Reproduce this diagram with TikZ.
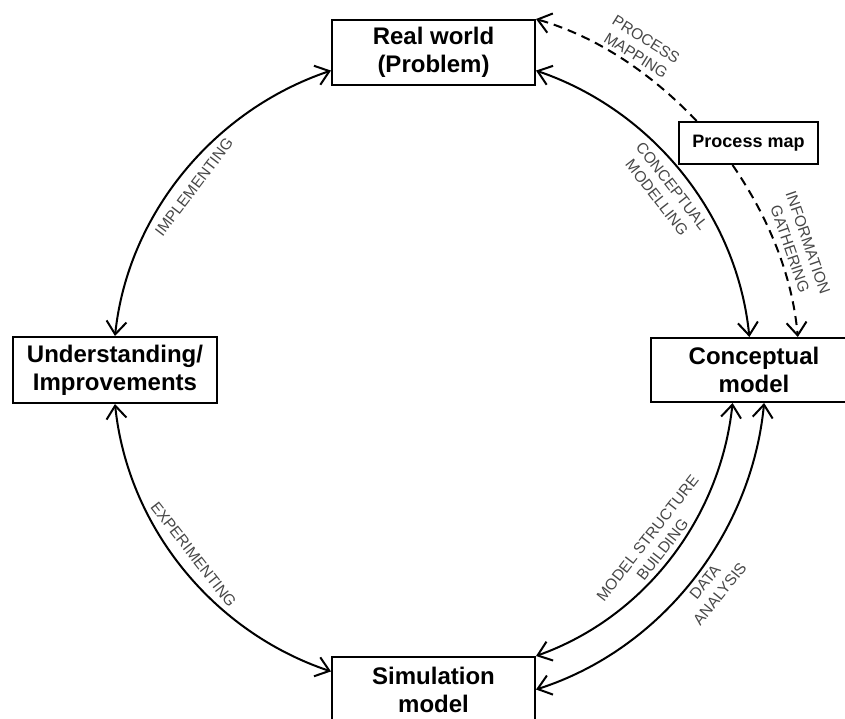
\documentclass[tikz,border=0pt]{standalone}
\usepackage{fontspec}
\setmainfont{Liberation Sans}
\usetikzlibrary{arrows.meta}
\begin{document}
\begin{tikzpicture}[x=1pt,y=1pt,
  >={Straight Barb[length=13pt,width=20pt]},
  box/.style={draw, line width=2pt, font=\bfseries\fontsize{24}{28}\selectfont,
    align=center, inner sep=0pt, minimum width=203pt, minimum height=65pt},
  lbl/.style={font=\fontsize{15.5}{19}\selectfont, text=black!72, align=center, inner sep=0pt},
  conn/.style={line width=2pt, looseness=0.92},
  dconn/.style={line width=2pt, looseness=0.87, dash pattern=on 9pt off 6pt}
]
\useasboundingbox (0,0) rectangle (845,-718);

\node[box] (rw) at (433.5,-52.5) {Real world\\(Problem)};
\node[box, minimum width=204pt, minimum height=66pt] (um) at (115,-370) {Understanding/\\Improvements};
\node[box, minimum width=206pt, minimum height=64pt] (cm) at (754,-370) {Conceptual\\model};
\node[box] (sm) at (433.5,-689.5) {Simulation\\model};
\node[box, font=\bfseries\fontsize{18}{22}\selectfont, minimum width=139pt, minimum height=42pt] (pm) at (748.5,-143) {Process map};

\draw[conn,<->] (rw.190) to[out=198.6,in=84] (um.north);
\draw[conn,<->] (rw.-10) to[out=-18.8,in=95.7] (cm.98);
\draw[conn,<->] (um.south) to[out=275.9,in=161.5] (sm.170);
\draw[conn,<->] (cm.237) to[out=264,in=19.6] (sm.north east);
\draw[conn,<->] (cm.287) to[out=264.5,in=17.7] (sm.east);
\draw[dconn,->] (pm.157) to[out=133.6,in=-16.2] (rw.north east);
\draw[dconn,->] (pm.234) to[out=-55.5,in=95] (cm.37);

\node[lbl, rotate=52.7] (limp) at (194,-187) {IMPLEMENTING};
\node[lbl, rotate=-52] (lcm) at (664.5,-191.75) {CONCEPTUAL\\MODELLING};
\node[lbl, rotate=-32] (lpm) at (641,-47.5) {PROCESS\\MAPPING};
\node[lbl, rotate=-71] (lig) at (799,-246) {INFORMATION\\GATHERING};
\node[lbl, rotate=52] (lmsb) at (655,-544) {MODEL STRUCTURE\\BUILDING};
\node[lbl, rotate=51] (lda) at (712.5,-588) {DATA\\ANALYSIS};
\node[lbl, rotate=-52] (lexp) at (193.5,-554.5) {EXPERIMENTING};
\end{tikzpicture}
\end{document}
